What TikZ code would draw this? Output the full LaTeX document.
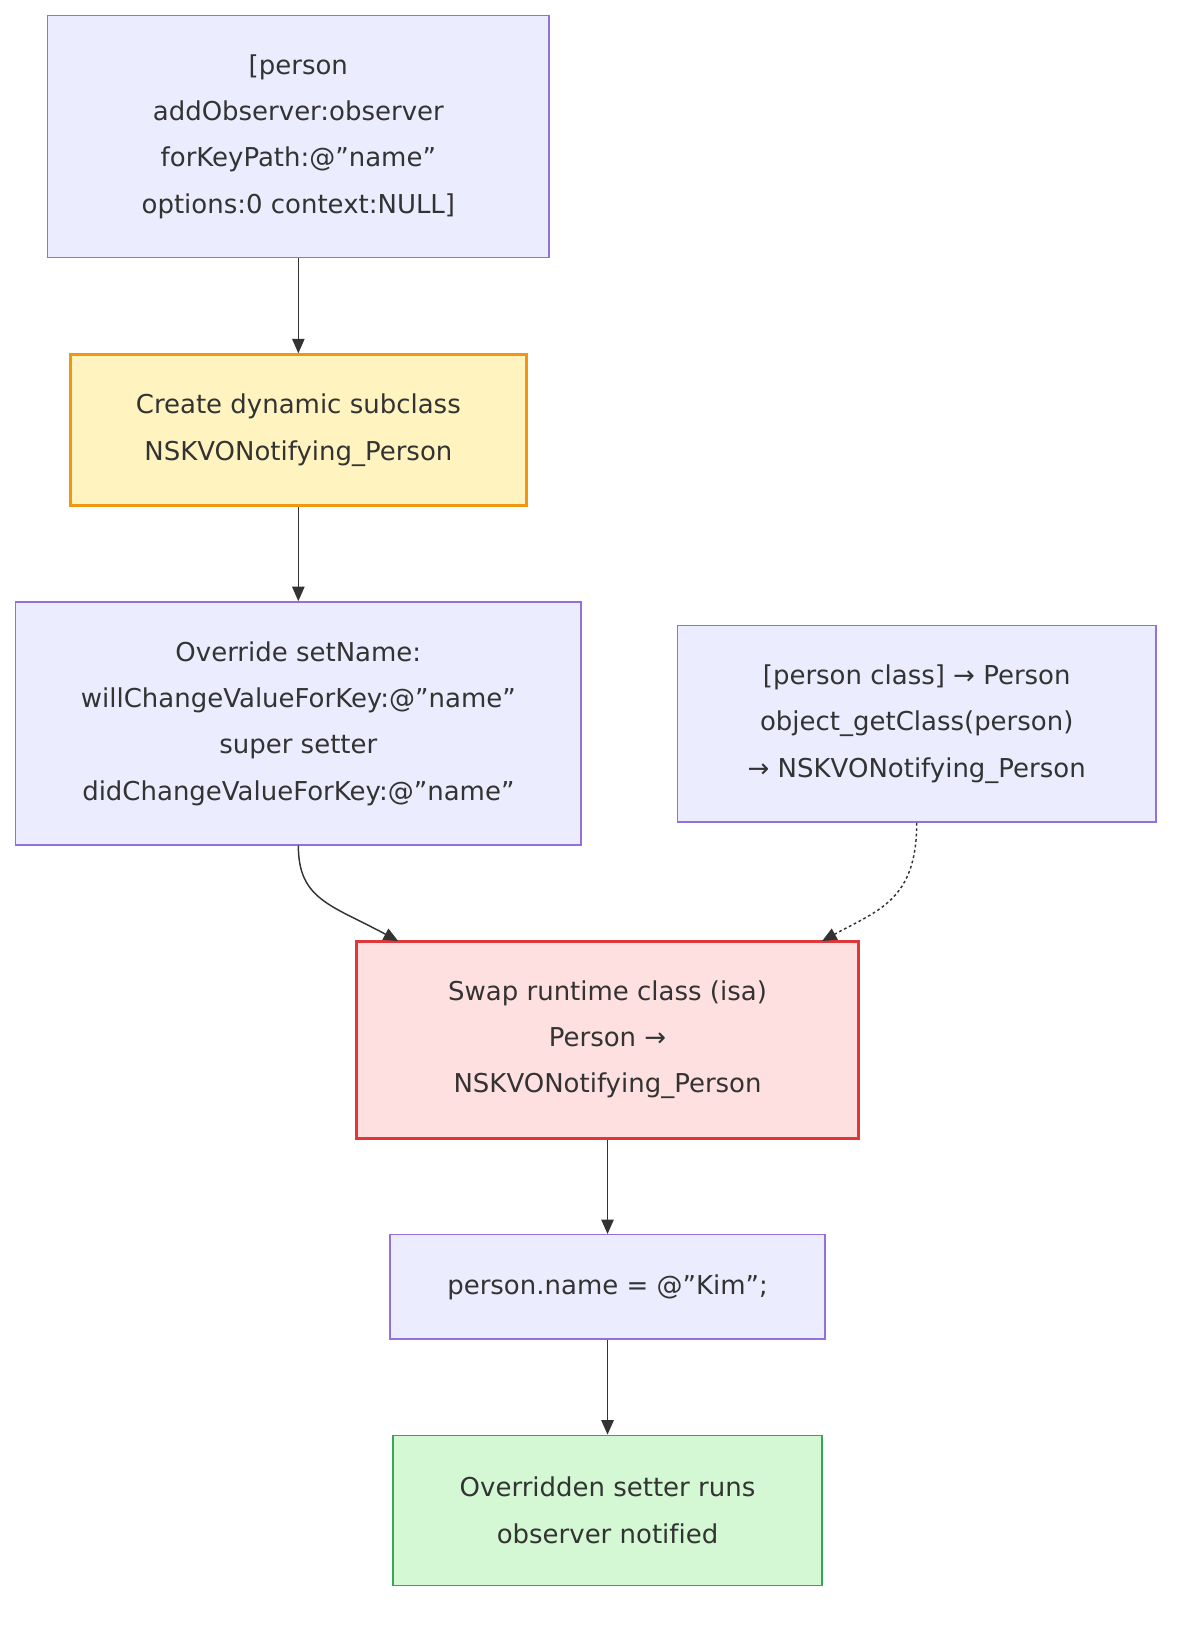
\documentclass[tikz,border=0pt]{standalone}
\usepackage{fontspec}
\setmainfont{DejaVu Sans}[Ligatures=NoCommon]
\usetikzlibrary{arrows.meta,positioning}
\definecolor{boxfill}{HTML}{ECECFF}
\definecolor{boxline}{HTML}{9370DB}
\definecolor{textcol}{HTML}{333333}
\definecolor{hotline}{HTML}{F0960F}
\definecolor{hotfill}{HTML}{FFF4C0}
\definecolor{swapline}{HTML}{E0383A}
\definecolor{swapfill}{HTML}{FFE0E0}
\definecolor{doneline}{HTML}{34A853}
\definecolor{donefill}{HTML}{D4F8D4}
\newcommand\dq{\char34\relax}
\tikzset{
    headarrow/.style = {-{Triangle[length=0.28cm,width=0.24cm]}, draw=textcol, line width=0.8pt},
    stage/.style = {draw=boxline, fill=boxfill, line width=0.8pt, align=center,
        text=textcol, font=\fontsize{14.3}{25.5}\selectfont, inner sep=0pt},
    hot/.style = {stage, draw=hotline, fill=hotfill, line width=1.6pt},
    swap/.style = {stage, draw=swapline, fill=swapfill, line width=1.6pt},
    done/.style = {stage, draw=doneline, fill=donefill}
}
\begin{document}
\begin{tikzpicture}[x=0.02cm,y=-0.02cm]
    \useasboundingbox (0,0) rectangle (1160,1584);
    \node[stage, minimum width=9.7cm, minimum height=4.68cm] (observe) at (288.5,132)
        {[person\\addObserver:observer\\forKeyPath:@\dq name\dq\\options:0 context:NULL]};
    \node[hot, minimum width=8.82cm, minimum height=2.92cm] (subclass) at (288.5,416)
        {Create dynamic subclass\\NSKVONotifying\_Person};
    \node[stage, minimum width=10.94cm, minimum height=4.7cm] (override) at (288.5,699.5)
        {Override setName:\\willChangeValueForKey:@\dq name\dq\\super setter\\didChangeValueForKey:@\dq name\dq};
    \node[stage, minimum width=9.26cm, minimum height=3.8cm] (check) at (886.5,700)
        {[person class] → Person\\object\_getClass(person)\\→ NSKVONotifying\_Person};
    \node[swap, minimum width=9.7cm, minimum height=3.82cm] (isa) at (587.5,1005.5)
        {Swap runtime class (isa)\\Person →\\NSKVONotifying\_Person};
    \node[stage, minimum width=8.42cm, minimum height=2.02cm] (assign) at (587.5,1244.5)
        {person.name = @\dq Kim\dq;};
    \node[done, minimum width=8.3cm, minimum height=2.9cm] (notify) at (587.5,1460.5)
        {Overridden setter runs\\observer notified};

    \coordinate (isa-l) at (385,910);
    \coordinate (isa-r) at (795,910);
    \draw[headarrow] (observe) -- (subclass);
    \draw[headarrow] (subclass) -- (override);
    \draw[headarrow] (override.south) .. controls (288.5,870) and (320,875) .. (isa-l);
    \draw[headarrow, dash pattern=on 1.5pt off 1.5pt] (check.south) .. controls (886.5,870) and (850,880) .. (isa-r);
    \draw[headarrow] (isa) -- (assign);
    \draw[headarrow] (assign) -- (notify);
\end{tikzpicture}
\end{document}
